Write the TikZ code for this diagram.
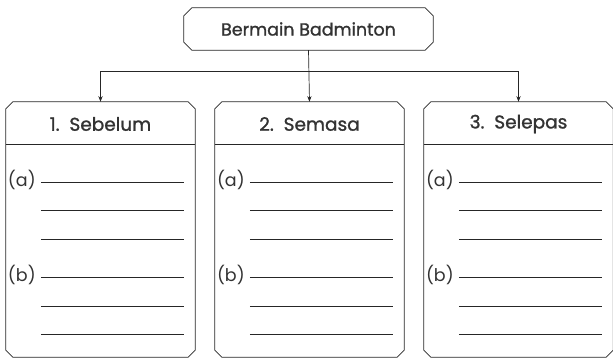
\documentclass[tikz,border=0pt]{standalone}
\usepackage{fontspec}
\setmainfont{Poppins}
\newfontfamily\headfont{Poppins}[FakeBold=1.2]
\usetikzlibrary{arrows.meta}

% outline with cut corners round a named node
\newcommand{\cutbox}[2]{%
  \draw[outline] ([xshift=#2]#1.north west) -- ([xshift=-#2]#1.north east)
    -- ([yshift=-#2]#1.north east) -- ([yshift=#2]#1.south east)
    -- ([xshift=-#2]#1.south east) -- ([xshift=#2]#1.south west)
    -- ([yshift=#2]#1.south west) -- ([yshift=-#2]#1.north west) -- cycle;}

\begin{document}
\begin{tikzpicture}[
    x=1pt, y=-1pt,
    font=\fontsize{17.5}{19}\selectfont,
    outline/.style={line width=0.8pt, black!85},
    box/.style={inner sep=0pt, minimum width=189pt, minimum height=255pt},
    topbox/.style={inner sep=0pt, minimum width=249pt, minimum height=42pt,
                   font=\headfont\fontsize{17.5}{19}\selectfont, text=black!80},
    head/.style={inner sep=1pt, font=\headfont\fontsize{18.5}{20}\selectfont, text=black!80},
    item/.style={inner sep=0pt, anchor=base west, text=black!80},
    flow/.style={-{Stealth[length=2mm, width=1.5mm]}, line width=0.7pt, black!85},
    blank/.style={line width=0.75pt, black!85},
  ]
  \useasboundingbox (0,0) rectangle (613,359);
  \node[topbox] (main) at (308.5,29) {Bermain Badminton};
  \node[box] (sebelum) at (100.5,229.5) {};
  \node[box] (semasa) at (309.5,229.5) {};
  \node[box] (selepas) at (518.5,229.5) {};
  \coordinate (split) at (309,71);
  \cutbox{main}{8pt}
  \cutbox{sebelum}{7pt}
  \cutbox{semasa}{7pt}
  \cutbox{selepas}{7pt}

  % connectors
  \draw[flow] (main.south) -- (semasa.north);
  \draw[flow] (split) -| (sebelum.north);
  \draw[flow] (split) -| (selepas.north);

  % headers and answer lines
  \foreach \b/\t in {sebelum/1.\ \ Sebelum, semasa/2.\ \ Semasa, selepas/3.\ \ Selepas} {
    \draw[outline] (\b.west |- 0,144) -- (\b.east |- 0,144);
    \node[head] at (\b.north |- 0,124) {\t};
    \node[item] at ([xshift=2pt]\b.west |- 0,186) {(a)};
    \node[item] at ([xshift=2pt]\b.west |- 0,281) {(b)};
    \foreach \y in {182,210,239,277,306,334}
      \draw[blank] ([xshift=35pt]\b.west |- 0,\y) -- ([xshift=-11pt]\b.east |- 0,\y);
  }
\end{tikzpicture}
\end{document}
